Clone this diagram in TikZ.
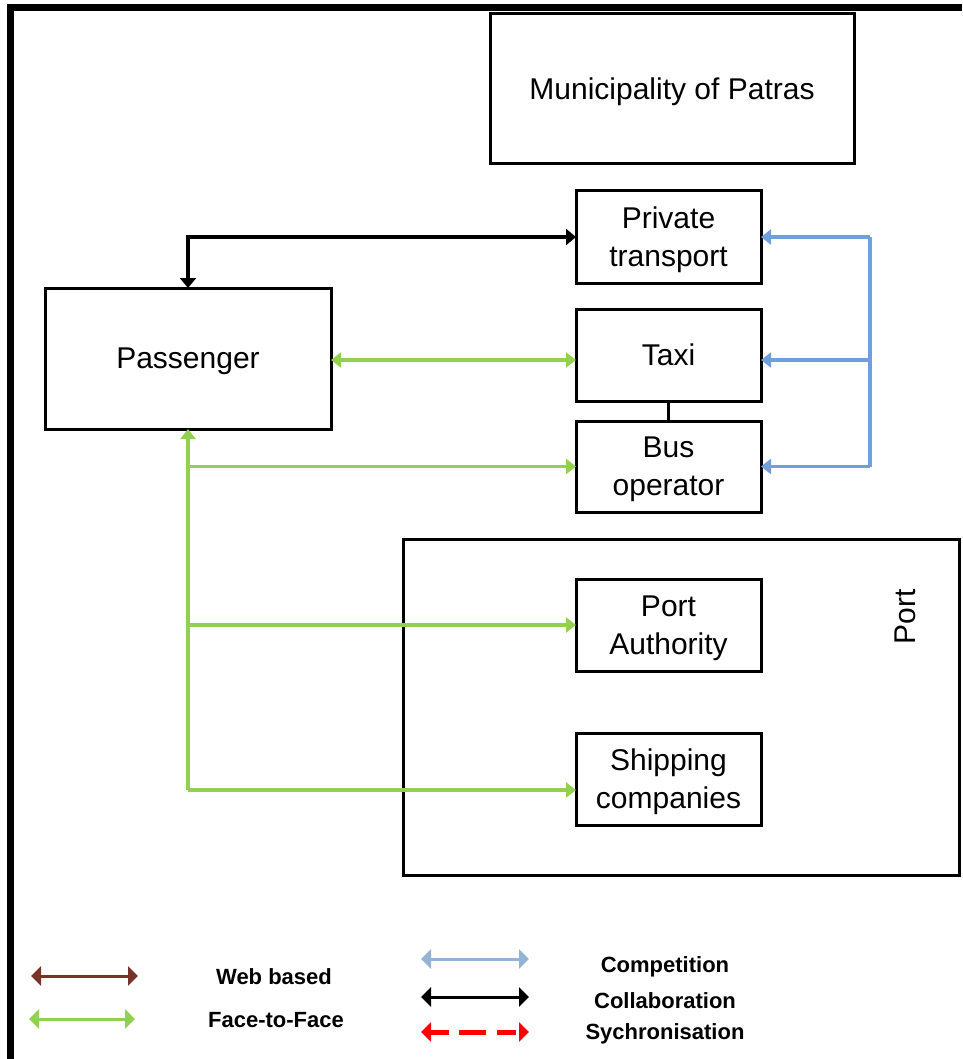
\documentclass[tikz,border=0pt]{standalone}
\usepackage{fontspec}
\setmainfont{Liberation Sans}
\usetikzlibrary{arrows.meta}
\definecolor{ftfgreen}{RGB}{146,208,80}
\definecolor{compblue}{RGB}{112,160,220}
\definecolor{legblue}{RGB}{149,179,215}
\definecolor{webbrown}{RGB}{120,50,40}
\definecolor{syncred}{RGB}{255,0,0}
\tikzset{
  dtip/.tip={Triangle[length=10pt,width=15pt]},
  btip/.tip={Triangle[length=10pt,width=16pt]},
  ltip/.tip={Triangle[length=10pt,width=19pt]}
}
\begin{document}
\begin{tikzpicture}[x=1pt,y=-1pt,
  box/.style={draw=black,line width=3pt,inner sep=0pt,outer sep=0pt,align=center,
    text depth=0pt,font=\fontsize{30}{38}\selectfont},
  ftf/.style={draw=ftfgreen,line width=3.2pt},
  comp/.style={draw=compblue,line width=3.2pt},
  collab/.style={draw=black,line width=3.2pt},
  legtext/.style={font=\fontsize{22}{26}\selectfont\bfseries,anchor=base}
]
\useasboundingbox (0,0) rectangle (962,1059);
% frame bars
\fill[black] (7,4) rectangle (962,11);
\fill[black] (7,4) rectangle (14,1059);

% boxes
\node[box,text depth=-5pt,minimum width=364pt,minimum height=150pt] (muni) at (672,89) {Municipality of Patras};
\node[box,minimum width=185pt,minimum height=92pt] (private) at (668.5,237) {Private\\transport};
\node[box,minimum width=185pt,minimum height=92pt] (taxi) at (668.5,355) {Taxi};
\node[box,minimum width=185pt,minimum height=91pt] (bus) at (668.5,466.5) {Bus\\operator};
\node[box,minimum width=286pt,minimum height=141pt] (pass) at (188,358.5) {Passenger};
\node[box,minimum width=556pt,minimum height=336pt] (port) at (681,707) {};
\node[box,minimum width=185pt,minimum height=92pt] (pa) at (668.5,625) {Port\\Authority};
\node[box,minimum width=185pt,minimum height=92pt] (ship) at (668.5,779) {Shipping\\companies};
\node[font=\fontsize{30}{37}\selectfont,rotate=90] (portlbl) at (905,617) {Port};

% taxi-bus link
\draw[collab,line width=3pt] (taxi.south) -- (bus.north);

% collaboration passenger - private transport
\draw[collab,{btip}-{btip}] (pass.north) |- (private.west);

% face to face
\coordinate (tw) at ([yshift=-1.5pt]pass.east -| taxi.west);
\draw[ftf,{dtip}-{dtip}] ([yshift=-1.5pt]pass.east) -- (tw);
\coordinate (j3) at (188,790);
\draw[ftf,-{dtip}] (j3) -- (pass.south);
\draw[ftf,-{dtip}] (j3) -- (j3 -| ship.west);
\draw[ftf,-{dtip}] (pass.south |- bus.west) -- (bus.west);
\draw[ftf,-{dtip}] (pass.south |- pa.west) -- (pa.west);

% competition
\coordinate (bx) at (870,0);
\coordinate (txe) at ([yshift=-5pt]taxi.east);
\draw[comp] (bx |- private.east) -- (bx |- bus.east);
\draw[comp,-{dtip}] (bx |- private.east) -- (private.east);
\draw[comp,-{dtip}] (bx |- txe) -- (txe);
\draw[comp,-{dtip}] (bx |- bus.east) -- (bus.east);

% legend
\coordinate (w1) at (31,976); \coordinate (w2) at (138,976);
\draw[draw=webbrown,line width=3pt,{ltip}-{ltip}] (w1) -- (w2);
\node[legtext] (wtxt) at (274,984) {Web based};
\coordinate (f1) at (29,1019); \coordinate (f2) at (135,1019);
\draw[draw=ftfgreen,line width=3pt,{ltip}-{ltip}] (f1) -- (f2);
\node[legtext] (ftxt) at (276,1027) {Face-to-Face};
\coordinate (c1) at (421,959); \coordinate (c2) at (529,959);
\draw[draw=legblue,line width=3pt,{ltip}-{ltip}] (c1) -- (c2);
\node[legtext] (ctxt) at (665,972) {Competition};
\coordinate (k1) at (421,997); \coordinate (k2) at (529,997);
\draw[draw=black,line width=3pt,{ltip}-{ltip}] (k1) -- (k2);
\node[legtext] (ktxt) at (665,1008) {Collaboration};
\coordinate (s1) at (421,1032); \coordinate (s2) at (529,1032);
\draw[draw=syncred,line width=5pt,dash pattern=on 19pt off 10pt on 27pt off 11pt,{ltip}-{ltip}] (s1) -- (s2);
\node[legtext] (stxt) at (665,1039) {Sychronisation};
\end{tikzpicture}
\end{document}
